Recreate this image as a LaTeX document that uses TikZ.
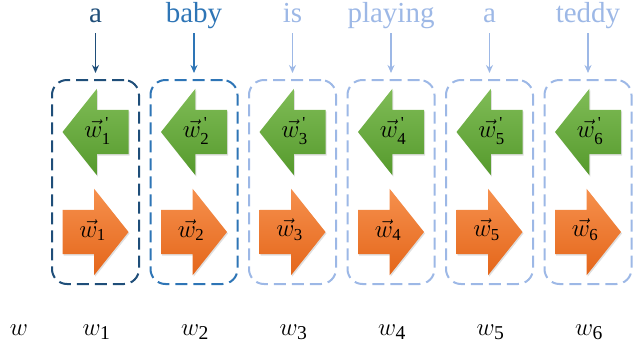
\documentclass[tikz,border=0pt]{standalone}
\usepackage{fontspec}
\usepackage{amsmath}
\setmainfont{Liberation Serif}
\newfontfamily\tnr{Liberation Serif}
\usetikzlibrary{shapes.arrows,shadows,arrows.meta}
\definecolor{cA}{HTML}{1F4E79}
\definecolor{cB}{HTML}{2E75B6}
\definecolor{cC}{HTML}{9DB8E6}
\definecolor{gTop}{HTML}{80BC57}
\definecolor{gBot}{HTML}{559A2C}
\definecolor{oTop}{HTML}{F6904D}
\definecolor{oBot}{HTML}{E4661A}
\newcommand{\vw}[1]{$\vec{w}_{\text{\tnr #1}}$}
\newcommand{\vwp}[1]{$\vec{w}^{\,\text{\tnr\textquotesingle}}_{\text{\tnr #1}}$}
\newcommand{\pw}[1]{$w_{\text{\tnr #1}}$}
\begin{document}
\begin{tikzpicture}[x=1pt,y=-1pt,
  word/.style={font=\tnr\fontsize{29}{29}\selectfont, anchor=base, inner sep=0pt, text height=20pt, text depth=7pt},
  wordbox/.style={dash pattern=on 12pt off 6pt, line width=2pt, rounded corners=15pt, minimum width=87pt, minimum height=204pt, inner sep=0pt, outer sep=0pt},
  arrowbase/.style={shape=single arrow, anchor=tip, inner xsep=0pt, inner ysep=22pt, single arrow head extend=21pt, single arrow tip angle=103, minimum height=66pt, outer sep=0pt, draw=none, drop shadow={opacity=0.25, shadow xshift=1pt, shadow yshift=-1.5pt}},
  garrow/.style={arrowbase, shape border rotate=180, top color=gTop, bottom color=gBot},
  oarrow/.style={arrowbase, top color=oTop, bottom color=oBot},
  vlab/.style={font=\tnr\fontsize{24}{24}\selectfont, inner sep=0pt},
  plab/.style={font=\tnr\fontsize{28}{28}\selectfont, inner sep=0pt, anchor=base},
  conn/.style={line width=1.5pt, -{Stealth[length=8pt,width=7pt]}, shorten <=4pt, shorten >=7pt}
]
\useasboundingbox (0,0) rectangle (633,354);
\node[plab] (lab0) at (19,335) {$w$};
\foreach \i/\w/\c in {1/a/cA, 2/baby/cB, 3/is/cC, 4/playing/cC, 5/a/cC, 6/teddy/cC} {
  \pgfmathsetmacro\xx{95.5+98.5*(\i-1)}
  \node[word, text=\c] (word\i) at (\xx,22) {\w};
  \node[wordbox, draw=\c] (box\i) at (\xx,182) {};
  \node[garrow] (g\i) at (\xx-33,132) {};
  \node[oarrow] (o\i) at (\xx+33,232) {};
  \node[vlab] (gl\i) at ([xshift=35pt,yshift=1pt]g\i.tip) {\vwp{\i}};
  \node[vlab] (ol\i) at ([xshift=-36pt,yshift=2pt]o\i.tip) {\vw{\i}};
  \node[plab] (lab\i) at (\xx+1,335) {\pw{\i}};
  \draw[conn, draw=\c] (word\i.south) -- (box\i.north);
}
\end{tikzpicture}
\end{document}
